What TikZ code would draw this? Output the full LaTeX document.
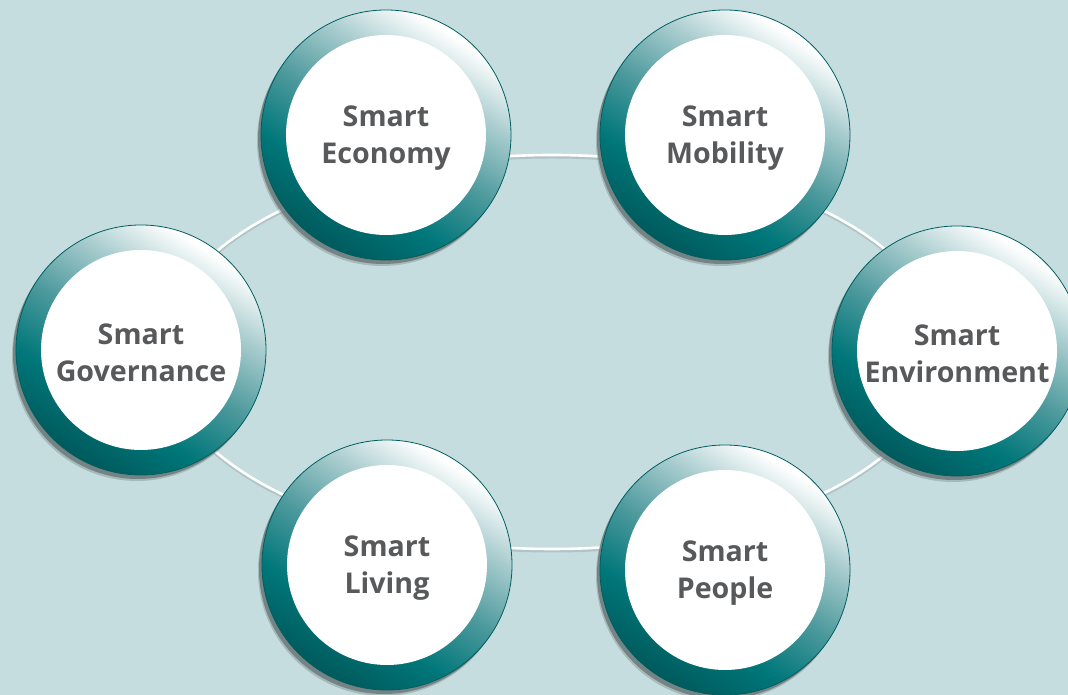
\documentclass[tikz,border=0pt]{standalone}
\usepackage{fontspec}
\setmainfont{Open Sans}
\usetikzlibrary{shadows}

\definecolor{bgcol}{HTML}{C6DDE0}
\definecolor{tealD}{HTML}{005A5C}
\definecolor{tealM}{HTML}{00777A}
\definecolor{tealL}{HTML}{4E9A9D}
\definecolor{tealP}{HTML}{AACDCF}
\definecolor{rimcol}{HTML}{005E60}
\definecolor{shadowcol}{HTML}{6C7A7B}
\definecolor{txtcol}{HTML}{58595B}

% teal-to-white gradient for the rings
\pgfdeclarehorizontalshading{ringshade}{100bp}{%
  color(0bp)=(tealD); color(25bp)=(tealD); color(37bp)=(tealM);
  color(50bp)=(tealL); color(63bp)=(tealP); color(74bp)=(white);
  color(100bp)=(white)}

\tikzset{
  ring/.style={circle, minimum size=250pt, inner sep=0pt,
    draw=rimcol, line width=0.8pt,
    shading=ringshade, shading angle=58,
    general shadow={shadow xshift=-4pt, shadow yshift=-6pt,
      fill=shadowcol, opacity=0.35},
    general shadow={shadow xshift=-3pt, shadow yshift=-4pt,
      fill=shadowcol, opacity=0.85}},
  core/.style={circle, minimum size=200pt, inner sep=0pt, fill=white},
  caption/.style={text=txtcol, align=center, inner sep=0pt,
    font=\fontsize{28.6}{37}\selectfont\bfseries},
  link/.style={draw=white, line width=2.6pt},
  linkshadow/.style={draw=shadowcol, line width=3pt, opacity=0.25}
}

\begin{document}
\begin{tikzpicture}[x=1pt,y=1pt]
  \useasboundingbox (0,0) rectangle (1068,695);
  \clip (0,0) rectangle (1068,695);
  \fill[bgcol] (0,0) rectangle (1068,695);

  % oval track linking the six themes
  \coordinate (mid) at (552,343);
  \draw[linkshadow] ([yshift=-2pt]mid) ellipse [x radius=390pt, y radius=197pt];
  \draw[link] (mid) ellipse [x radius=390pt, y radius=197pt];

  % outer rings
  \node[ring] (ecoR) at (386,560) {};
  \node[ring] (mobR) at (725,560) {};
  \node[ring] (govR) at (141,345) {};
  \node[ring] (envR) at (957,344) {};
  \node[ring] (livR) at (387,130) {};
  \node[ring] (peoR) at (725,125) {};

  % white centres
  \node[core] (eco) at (ecoR) {};
  \node[core] (mob) at (mobR) {};
  \node[core] (gov) at (govR) {};
  \node[core] (env) at (envR) {};
  \node[core] (liv) at (livR) {};
  \node[core] (peo) at (peoR) {};

  % labels
  \node[caption] (ecoT) at ([yshift=-3pt]eco.center) {Smart\\Economy};
  \node[caption] (mobT) at ([yshift=-3pt]mob.center) {Smart\\Mobility};
  \node[caption] (govT) at ([yshift=-3pt]gov.center) {Smart\\Governance};
  \node[caption] (envT) at ([yshift=-3pt]env.center) {Smart\\Environment};
  \node[caption] (livT) at ([yshift=-3pt]liv.center) {Smart\\Living};
  \node[caption] (peoT) at ([yshift=-3pt]peo.center) {Smart\\People};
\end{tikzpicture}
\end{document}
